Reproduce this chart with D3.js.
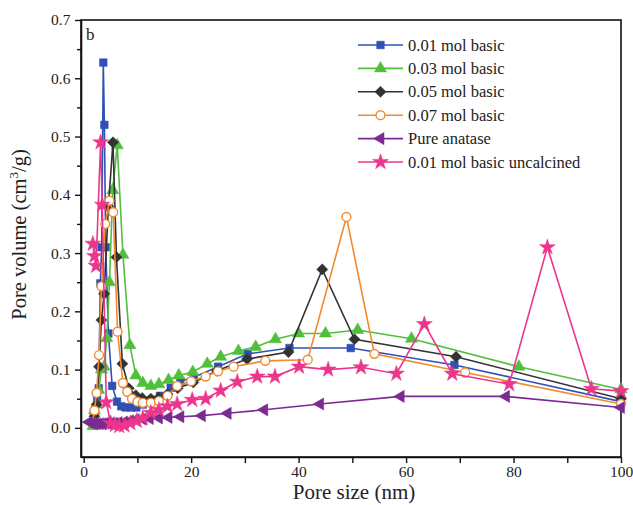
<!DOCTYPE html>
<html>
<head>
<meta charset="UTF-8">
<script src="https://d3js.org/d3.v7.min.js"></script>
<style>
  body { margin: 0; background: #fff; }
  svg { display: block; }
  text { font-family: "Liberation Serif", "Times New Roman", serif; fill: #222; }
</style>
</head>
<body>
<svg width="633" height="505"></svg>
<script>
// series: [pore size nm, pore volume cm3/g]
const s001 = [[1.7,0.01],[2.1,0.03],[2.5,0.048],[2.8,0.068],[3.1,0.248],[3.35,0.31],[3.65,0.627],[3.85,0.52],[4.1,0.31],[4.6,0.162],[5.3,0.072],[6.2,0.045],[7,0.037],[7.8,0.035],[8.8,0.035],[9.8,0.035],[11,0.04],[12.6,0.048],[14.2,0.055],[16.2,0.069],[18,0.08],[20.5,0.087],[25,0.105],[30.5,0.127],[38.3,0.137],[49.7,0.137],[69,0.108],[100,0.045]];
const s003 = [[1.7,0.003],[2.0,0.03],[2.4,0.04],[2.8,0.065],[3.3,0.1],[3.8,0.105],[4.3,0.154],[4.8,0.25],[5.4,0.408],[6.25,0.485],[7.3,0.297],[8.6,0.142],[9.7,0.09],[11,0.077],[12.5,0.072],[14,0.075],[15.8,0.082],[17.7,0.09],[20.3,0.096],[23,0.11],[25.5,0.122],[28.8,0.132],[32,0.139],[35.7,0.152],[40,0.162],[45,0.162],[51,0.168],[61,0.153],[81,0.105],[100,0.066]];
const s005 = [[1.7,0.01],[2.0,0.02],[2.4,0.04],[2.85,0.105],[3.3,0.185],[3.8,0.23],[4.6,0.38],[5.45,0.49],[6.1,0.293],[7.2,0.11],[8.4,0.068],[9.7,0.056],[10.9,0.051],[12.5,0.05],[14,0.052],[15.6,0.058],[17.5,0.068],[20.4,0.078],[24.8,0.098],[30.4,0.118],[38.1,0.13],[44.4,0.272],[50.4,0.152],[69.3,0.122],[100,0.05]];
const s007 = [[1.7,0.01],[2.0,0.03],[2.4,0.06],[2.85,0.125],[3.3,0.243],[4.0,0.35],[4.8,0.39],[5.5,0.37],[6.3,0.165],[7.3,0.077],[8.1,0.062],[9,0.05],[10,0.045],[11,0.043],[12.5,0.043],[14,0.046],[15.6,0.055],[17.4,0.072],[20,0.08],[22.7,0.088],[25,0.097],[27.9,0.105],[33.8,0.115],[41.7,0.117],[48.9,0.362],[54.1,0.127],[71,0.095],[100,0.041]];
const sPure = [[1,0.01],[1.5,0.008],[2,0.007],[2.5,0.007],[3,0.007],[3.5,0.007],[4,0.008],[4.5,0.008],[5,0.008],[5.7,0.008],[6.5,0.009],[7.5,0.01],[8.6,0.012],[9.7,0.014],[11,0.015],[12.3,0.016],[14,0.017],[15.8,0.018],[18,0.019],[22,0.021],[26.8,0.025],[33.6,0.031],[44,0.041],[59,0.054],[78.6,0.054],[100,0.035]];
const sUnc = [[1.7,0.316],[2.0,0.295],[2.3,0.278],[3.15,0.49],[3.45,0.383],[4.2,0.044],[5,0.008],[5.8,0.005],[6.6,0.003],[7.6,0.004],[8.7,0.008],[9.9,0.012],[11,0.017],[12.5,0.026],[14,0.031],[15.6,0.037],[17.4,0.041],[20.2,0.048],[22.7,0.05],[25.5,0.064],[28.6,0.079],[32.3,0.088],[35.6,0.088],[40.1,0.105],[45.5,0.1],[51.6,0.104],[58.2,0.093],[63.4,0.178],[68.6,0.093],[79.2,0.075],[86.3,0.31],[94.5,0.067],[100,0.063]];

const names = ["0.01 mol basic","0.03 mol basic","0.05 mol basic","0.07 mol basic","Pure anatase","0.01 mol basic uncalcined"];
const xTicks = [0,20,40,60,80,100];
const yTicks = [0.0,0.1,0.2,0.3,0.4,0.5,0.6,0.7];

const series = [
  {name: names[0], data: s001, color: "#2f50b4", sym: "square"},
  {name: names[1], data: s003, color: "#4fbf3c", sym: "triangle"},
  {name: names[2], data: s005, color: "#333333", sym: "diamond"},
  {name: names[3], data: s007, color: "#f38a2e", sym: "circle"},
  {name: names[4], data: sPure, color: "#7a2a90", sym: "left"},
  {name: names[5], data: sUnc, color: "#ec358b", sym: "star"}
];

const svg = d3.select("svg");
const L = 81, R = 621, T = 20, B = 457;
const x = d3.scaleLinear().domain([-0.5, 100]).range([L, R]);
const y = d3.scaleLinear().domain([-0.05, 0.7]).range([B, T]);

// cadre
svg.append("rect").attr("x", L).attr("y", T).attr("width", R - L).attr("height", B - T)
  .attr("fill", "none").attr("stroke", "#111").attr("stroke-width", 1.6);

// axes
const xAx = svg.append("g").attr("transform", `translate(0,${B})`)
  .call(d3.axisBottom(x).tickValues(xTicks).tickFormat(d3.format("d")).tickSize(6).tickSizeOuter(0));
svg.append("g").attr("transform", `translate(0,${B})`)
  .call(d3.axisBottom(x).tickValues([10,30,50,70,90]).tickFormat("").tickSize(6).tickSizeOuter(0))
  .select(".domain").remove();
const yAx = svg.append("g").attr("transform", `translate(${L},0)`)
  .call(d3.axisLeft(y).tickValues(yTicks).tickFormat(d3.format(".1f")).tickSize(6).tickSizeOuter(0));
svg.append("g").attr("transform", `translate(${L},0)`)
  .call(d3.axisLeft(y).tickValues([0.05,0.15,0.25,0.35,0.45,0.55,0.65]).tickFormat("").tickSize(4).tickSizeOuter(0))
  .select(".domain").remove();
svg.selectAll(".domain").attr("stroke", "#111").attr("stroke-width", 1.6);
svg.selectAll(".tick line").attr("stroke", "#111").attr("stroke-width", 1.4);
xAx.selectAll("text").attr("font-size", 15.5).attr("font-family", "Liberation Serif").attr("fill", "#222");
yAx.selectAll("text").attr("font-size", 15.5).attr("font-family", "Liberation Serif").attr("fill", "#222").attr("dx", "-0.1em");

svg.append("text").attr("x", (L + R) / 2 + 3).attr("y", 499).attr("text-anchor", "middle")
  .attr("font-size", 21).text("Pore size (nm)");
const yt = svg.append("text").attr("transform", `translate(26,${(T + B) / 2 - 4}) rotate(-90)`)
  .attr("text-anchor", "middle").attr("font-size", 20.5);
yt.append("tspan").text("Pore volume (cm");
yt.append("tspan").attr("font-size", 13).attr("dy", -8).text("3");
yt.append("tspan").attr("dy", 8).text("/g)");

svg.append("text").attr("x", 86).attr("y", 40).attr("font-size", 17).text("b");

// marqueurs
function symPath(sym) {
  if (sym === "square") return d3.symbol(d3.symbolSquare, 58)();
  if (sym === "triangle") return d3.symbol(d3.symbolTriangle, 64)();
  if (sym === "diamond") return d3.symbol(d3.symbolSquare, 62)();
  if (sym === "circle") return d3.symbol(d3.symbolCircle, 62)();
  if (sym === "left") return d3.symbol(d3.symbolTriangle, 64)();
  if (sym === "star") return d3.symbol(d3.symbolStar, 78)();
}
function symRot(sym) {
  if (sym === "diamond") return 45;
  if (sym === "left") return -90;
  return 0;
}
function drawMarker(g, s, px, py) {
  g.append("path").attr("d", symPath(s.sym))
    .attr("transform", `translate(${px},${py}) rotate(${symRot(s.sym)})`)
    .attr("fill", s.sym === "circle" ? "#fff" : s.color)
    .attr("stroke", s.color).attr("stroke-width", s.sym === "circle" ? 1.4 : 0.5);
}

const line = d3.line().x(d => x(d[0])).y(d => y(d[1]));
const plot = svg.append("g");
series.forEach(s => {
  const g = plot.append("g");
  g.append("path").datum(s.data).attr("d", line).attr("fill", "none")
    .attr("stroke", s.color).attr("stroke-width", 1.6);
  s.data.forEach(d => drawMarker(g, s, x(d[0]), y(d[1])));
});

// légende
const lg = svg.append("g");
series.forEach((s, i) => {
  const ly = 45 + i * 23.4;
  lg.append("line").attr("x1", 358).attr("x2", 403).attr("y1", ly).attr("y2", ly)
    .attr("stroke", s.color).attr("stroke-width", 1.6);
  drawMarker(lg, s, 380.5, ly);
  lg.append("text").attr("x", 408).attr("y", ly + 5.5).attr("font-size", 16.5).text(s.name);
});
</script>
</body>
</html>
